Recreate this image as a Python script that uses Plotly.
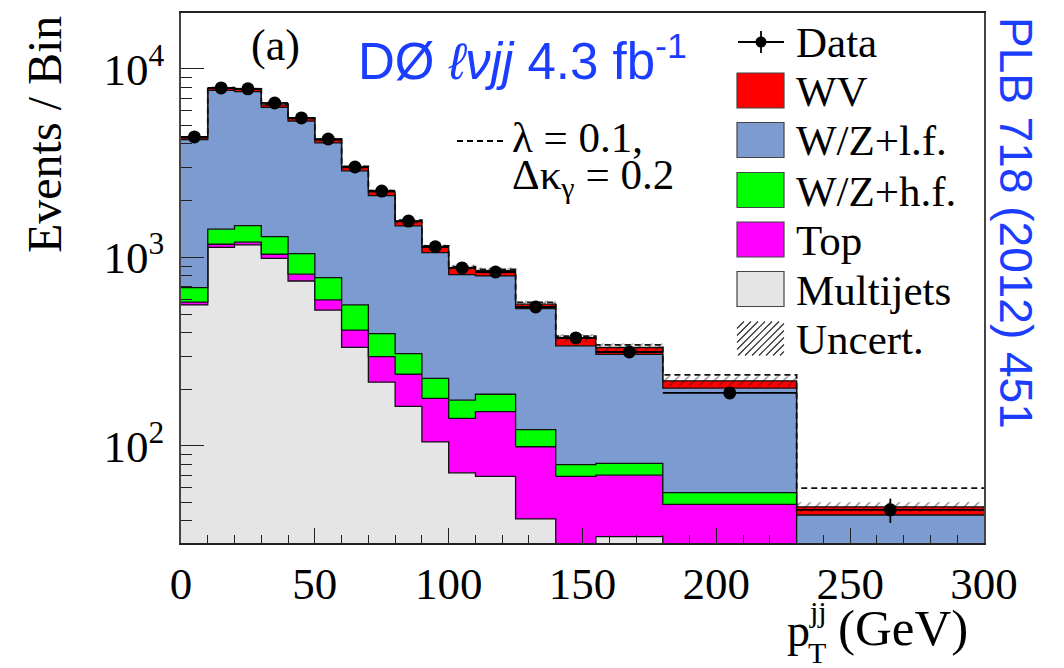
import numpy as np
import plotly.graph_objects as go

# ---------------- data ----------------
bin_edges = [0, 10, 20, 30, 40, 50, 60, 70, 80, 90, 100, 110, 125, 140, 155, 180, 230, 300]
data_counts = [4360, 7930, 7850, 6600, 5500, 4250, 3020, 2250, 1560, 1140, 880, 837, 546, 374, 315, 191, 45.8]
multijets = [560, 1130, 1165, 990, 750, 525, 333, 218, 162, 105, 72, 69, 41, 22, 33, 20, 5]
top = [20, 45, 40, 50, 65, 71, 79, 80, 78, 74, 68, 83, 58, 47, 37, 29, 12]
wz_hf = [112, 238, 271, 249, 232, 185, 148, 96, 69, 49, 35, 36, 23, 10.6, 10.8, 7.5, 6]
wz_lf = [3533, 6292, 6114, 4971, 4238, 3274, 2320, 1736, 1163, 834, 635, 610, 413, 260, 225, 146, 20]
wv = [105, 195, 210, 190, 165, 145, 120, 100, 78, 68, 70, 52, 30, 33, 27, 19, 4.5]
atgc = [4350, 7950, 7850, 6500, 5500, 4250, 3040, 2260, 1575, 1150, 895, 865, 578, 382, 344, 238, 59.7]
syst_unc = [90, 160, 160, 130, 110, 100, 75, 65, 45, 40, 35, 34, 25, 19, 17, 13, 2.8]
x_ticks = [0, 50, 100, 150, 200, 250, 300]
y_ticks = [100, 1000, 10000]
y_ticktext = ["10<sup>2</sup>", "10<sup>3</sup>", "10<sup>4</sup>"]

# ---------------- colours ----------------
C_MJ = "#e5e5e5"
C_TOP = "#ff00ff"
C_HF = "#00ff00"
C_LF = "#7b9bd1"
C_WV = "#ff0000"
BLUE_TXT = "#1a3dff"
SERIF = "Liberation Serif, Times New Roman, serif"
SANS = "Liberation Sans, Arial, sans-serif"

edges = np.array(bin_edges, dtype=float)
centers = 0.5 * (edges[1:] + edges[:-1])
halfw = 0.5 * (edges[1:] - edges[:-1])

layers = [multijets, top, wz_hf, wz_lf, wv]
colors = [C_MJ, C_TOP, C_HF, C_LF, C_WV]
cum = np.cumsum(np.array(layers, dtype=float), axis=0)
total = cum[-1]


def step_y(v):
    v = list(v)
    return v + [v[-1]]


fig = go.Figure()

# baseline below the visible range
fig.add_trace(go.Scatter(x=edges, y=[1.0] * len(edges), mode="lines",
                         line=dict(width=0, color="rgba(0,0,0,0)"),
                         showlegend=False, hoverinfo="skip"))
for lvl, col in zip(cum, colors):
    fig.add_trace(go.Scatter(x=edges, y=step_y(lvl), mode="lines", line_shape="hv",
                             line=dict(color="#111", width=1.3), fill="tonexty",
                             fillcolor=col, showlegend=False, hoverinfo="skip"))

# uncertainty band (hatched)
unc = np.array(syst_unc, dtype=float)
fig.add_trace(go.Scatter(x=edges, y=step_y(total - unc), mode="lines", line_shape="hv",
                         line=dict(width=0, color="rgba(0,0,0,0)"),
                         showlegend=False, hoverinfo="skip"))
fig.add_trace(go.Scatter(x=edges, y=step_y(total + unc), mode="lines", line_shape="hv",
                         line=dict(width=0, color="rgba(0,0,0,0)"), fill="tonexty",
                         fillcolor="rgba(0,0,0,0)",
                         fillpattern=dict(shape="/", fgcolor="#111", bgcolor="rgba(0,0,0,0)",
                                          size=7, solidity=0.2),
                         showlegend=False, hoverinfo="skip"))

# aTGC prediction (dashed)
fig.add_trace(go.Scatter(x=edges, y=step_y(atgc), mode="lines", line_shape="hv",
                         line=dict(color="#111", width=1.8, dash="6px,4px"),
                         showlegend=False, hoverinfo="skip"))

# data
fig.add_trace(go.Scatter(x=centers, y=data_counts, mode="markers",
                         marker=dict(color="black", size=13, symbol="circle"),
                         error_y=dict(type="data", array=np.sqrt(data_counts), color="black",
                                      thickness=1.8, width=0),
                         error_x=dict(type="data", array=halfw, color="black",
                                      thickness=1.8, width=0),
                         showlegend=False))

# ---------------- layout ----------------
L, R, T, B = 181, 984, 13, 543
W, H = 1064, 668


def px(x):
    return (x - L) / (R - L)


def py(y):
    return (B - y) / (B - T)


minor_y = [m * 10 ** e for e in range(1, 5) for m in range(2, 10)]

fig.update_layout(
    width=W, height=H,
    margin=dict(l=L, r=W - R, t=T, b=H - B),
    paper_bgcolor="white", plot_bgcolor="white",
    showlegend=False,
    xaxis=dict(range=[0, 300], showgrid=False, zeroline=False,
               showline=True, linecolor="#222", linewidth=1.5, mirror=True,
               ticks="inside", ticklen=15, tickwidth=1.3, tickcolor="#222",
               tickvals=x_ticks, ticktext=[str(v) for v in x_ticks],
               tickfont=dict(family=SERIF, size=45, color="black"),
               minor=dict(dtick=10, ticks="inside", ticklen=8, tickwidth=1.2, tickcolor="#222",
                          showgrid=False)),
    yaxis=dict(type="log", range=[1.485, 4.297], showgrid=False, zeroline=False,
               showline=True, linecolor="#444", linewidth=1.5, mirror=True,
               ticks="inside", ticklen=23, tickwidth=1.3, tickcolor="#222",
               tickvals=y_ticks, ticktext=y_ticktext, ticklabelstandoff=6,
               tickfont=dict(family=SERIF, size=45, color="black"),
               minor=dict(tickvals=minor_y, ticks="inside", ticklen=11, tickwidth=1.2,
                          tickcolor="#222", showgrid=False)),
)

ann = []
shapes = []

# y title
ann.append(dict(x=px(45), y=py(135), xref="paper", yref="paper", text="Events / Bin",
                textangle=-90, showarrow=False, font=dict(family=SERIF, size=48, color="black"),
                xanchor="center", yanchor="middle"))
# x title pieces
ann.append(dict(x=px(785), y=py(630), xref="paper", yref="paper", text="p",
                showarrow=False, font=dict(family=SERIF, size=46, color="black"),
                xanchor="left", yanchor="middle"))
ann.append(dict(x=px(807), y=py(611), xref="paper", yref="paper", text="jj",
                showarrow=False, font=dict(family=SERIF, size=30, color="black"),
                xanchor="left", yanchor="middle"))
ann.append(dict(x=px(806), y=py(652), xref="paper", yref="paper", text="T",
                showarrow=False, font=dict(family=SERIF, size=30, color="black"),
                xanchor="left", yanchor="middle"))
ann.append(dict(x=px(836), y=py(628), xref="paper", yref="paper", text="(GeV)",
                showarrow=False, font=dict(family=SERIF, size=51, color="black"),
                xanchor="left", yanchor="middle"))

# (a)
ann.append(dict(x=px(275), y=py(46), xref="paper", yref="paper", text="(a)",
                showarrow=False, font=dict(family=SERIF, size=44, color="black"),
                xanchor="center", yanchor="middle"))
# DØ label
ann.append(dict(x=px(356), y=py(58), xref="paper", yref="paper",
                text="DØ <i>ℓνjj</i> 4.3 fb<sup>-1</sup>",
                showarrow=False, font=dict(family=SANS, size=51, color=BLUE_TXT),
                xanchor="left", yanchor="middle"))
# PLB reference
ann.append(dict(x=px(1016), y=py(223), xref="paper", yref="paper",
                text="PLB 718 (2012) 451", textangle=90,
                showarrow=False, font=dict(family=SANS, size=46, color=BLUE_TXT),
                xanchor="center", yanchor="middle"))
# aTGC label
shapes.append(dict(type="line", xref="paper", yref="paper", x0=px(457), x1=px(503),
                   y0=py(141), y1=py(141), line=dict(color="black", width=1.8, dash="6px,4px")))
ann.append(dict(x=px(510), y=py(138), xref="paper", yref="paper", text="λ = 0.1,",
                showarrow=False, font=dict(family=SERIF, size=43, color="black"),
                xanchor="left", yanchor="middle"))
ann.append(dict(x=px(510), y=py(178), xref="paper", yref="paper",
                text="Δκ<sub>γ</sub> = 0.2",
                showarrow=False, font=dict(family=SERIF, size=43, color="black"),
                xanchor="left", yanchor="middle"))

# legend
leg_y = [42, 90.5, 140, 190, 239.5, 289, 338.5]
leg_txt = ["Data", "WV", "W/Z+l.f.", "W/Z+h.f.", "Top", "Multijets", "Uncert."]
bx0, bx1 = 737, 784
for i, (yc, t) in enumerate(zip(leg_y, leg_txt)):
    ann.append(dict(x=px(794), y=py(yc + 1), xref="paper", yref="paper", text=t,
                    showarrow=False, font=dict(family=SERIF, size=43, color="black"),
                    xanchor="left", yanchor="middle"))
    if i == 0:
        shapes.append(dict(type="line", xref="paper", yref="paper", x0=px(738), x1=px(784),
                           y0=py(yc), y1=py(yc), line=dict(color="black", width=1.8)))
        shapes.append(dict(type="line", xref="paper", yref="paper", x0=px(761), x1=px(761),
                           y0=py(yc - 11), y1=py(yc + 11), line=dict(color="black", width=1.8)))
        shapes.append(dict(type="circle", xref="paper", yref="paper", x0=px(755.5), x1=px(766.5),
                           y0=py(yc - 5.5), y1=py(yc + 5.5), fillcolor="black",
                           line=dict(color="black", width=0)))
    elif i <= 5:
        shapes.append(dict(type="rect", xref="paper", yref="paper", x0=px(bx0), x1=px(bx1),
                           y0=py(yc - 17.5), y1=py(yc + 17.5), fillcolor=colors[::-1][i - 1],
                           line=dict(color="#444", width=1.2)))
    else:
        y0p, y1p = yc - 17, yc + 17
        step = 7
        c = bx0 + y0p
        while c < bx1 + y1p:
            # line x + y = c (pixel coords), clipped to box
            xa = max(bx0, c - y1p)
            xb = min(bx1, c - y0p)
            if xb > xa:
                shapes.append(dict(type="line", xref="paper", yref="paper",
                                   x0=px(xa), y0=py(c - xa), x1=px(xb), y1=py(c - xb),
                                   line=dict(color="#222", width=1.1)))
            c += step

fig.update_layout(annotations=ann, shapes=shapes)
fig.write_html("out.html")
